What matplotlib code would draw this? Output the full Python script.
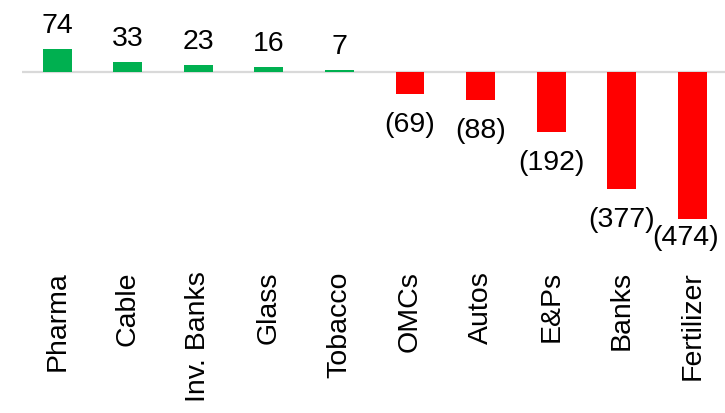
import matplotlib
matplotlib.use('Agg')
import matplotlib.pyplot as plt

plt.rcParams['font.family'] = ['Liberation Sans', 'DejaVu Sans']

sectors = ['Pharma', 'Cable', 'Inv. Banks', 'Glass', 'Tobacco',
           'OMCs', 'Autos', 'E&Ps', 'Banks', 'Fertilizer']
values = [74, 33, 23, 16, 7, -69, -88, -192, -377, -474]

green = '#00b050'
red = '#ff0000'
colors = [green if v >= 0 else red for v in values]

fig = plt.figure(figsize=(7.25, 4.14), dpi=100)
# axes placed in figure fraction (zero line ~73px from top)
ax = fig.add_axes([0.0303, 0.3937, 0.9732, 0.5966])

x = range(len(sectors))
ax.bar(x, values, width=0.41, color=colors, zorder=2)
ax.axhline(0, color='#d9d9d9', lw=1.6, zorder=1)

ymin, ymax = -574, 224
ax.set_xlim(-0.5, 9.5)
ax.set_ylim(ymin, ymax)

# data units per pixel
px = (ymax - ymin) / (0.5966 * 414)

for i, v in enumerate(values):
    if v >= 0:
        ax.annotate(f'{v}', (i, v), xytext=(0, 12.2), textcoords='offset points',
                    ha='center', va='baseline', fontsize=20.5)
    else:
        lab = f'({-v})'
        # keep label inside plot area like Excel does
        if v - (17 + 30) * px < ymin:
            ax.annotate(lab, (i, ymin), xytext=(-5, 0), textcoords='offset points',
                        ha='center', va='bottom', fontsize=20.5)
        else:
            ax.annotate(lab, (i, v), xytext=(0, -12.2), textcoords='offset points',
                        ha='center', va='top', fontsize=20.5)

ax.set_xticks(list(x))
ax.set_xticklabels(sectors, rotation=90, fontsize=20.5)
ax.tick_params(axis='x', length=0, pad=14.5)
ax.set_yticks([])
for s in ax.spines.values():
    s.set_visible(False)

fig.savefig('out.png', dpi=100)
